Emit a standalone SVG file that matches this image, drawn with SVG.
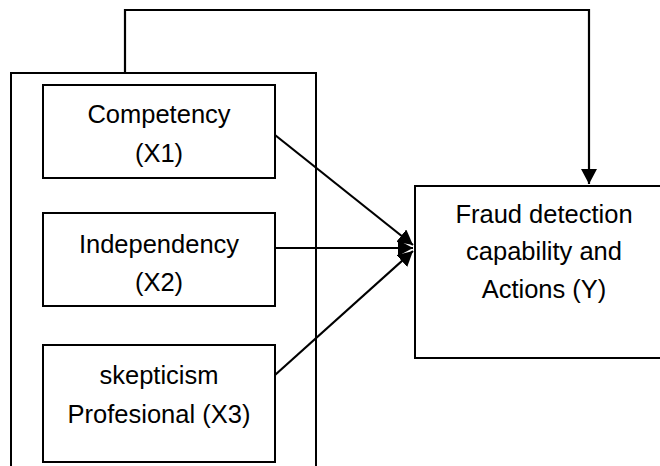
<svg xmlns="http://www.w3.org/2000/svg" width="660" height="466" viewBox="0 0 660 466">
<style>
.box{fill:#fff;stroke:#000;stroke-width:2}
.frame{fill:none;stroke:#000;stroke-width:2}
.ln{fill:none;stroke:#000;stroke-width:2.2}
.t{font-family:"Liberation Sans",Arial,sans-serif;font-size:25.5px;fill:#000;text-anchor:middle}
</style>
<defs>
<marker id="ah" markerUnits="userSpaceOnUse" markerWidth="16" markerHeight="16" refX="15" refY="8" orient="auto">
<path d="M0,0 L15,8 L0,16 z" fill="#000"/>
</marker>
</defs>
<rect width="660" height="466" fill="#fff"/>
<g id="frame">
<path class="frame" d="M11,470 L11,73 L316,73 L316,470"/>
</g>
<g id="x1">
<rect class="box" x="43" y="85" width="232" height="93"/>
<text class="t" x="159" y="123">Competency</text>
<text class="t" x="159" y="162">(X1)</text>
</g>
<g id="x2">
<rect class="box" x="43" y="213" width="232" height="93"/>
<text class="t" x="159" y="253">Independency</text>
<text class="t" x="159" y="291">(X2)</text>
</g>
<g id="x3">
<rect class="box" x="43" y="345" width="232" height="117"/>
<text class="t" x="159" y="384">skepticism</text>
<text class="t" x="159" y="423">Profesional (X3)</text>
</g>
<g id="y">
<rect class="box" x="415" y="186" width="260" height="172"/>
<text class="t" x="544" y="223">Fraud detection</text>
<text class="t" x="544" y="260">capability and</text>
<text class="t" x="544" y="298">Actions (Y)</text>
</g>
<g id="connectors">
<path class="ln" d="M125,73 L125,10 L589,10 L589,184" marker-end="url(#ah)"/>
<path class="ln" d="M275,135 L413,245" marker-end="url(#ah)"/>
<path class="ln" d="M275,248 L413,248" marker-end="url(#ah)"/>
<path class="ln" d="M275,375 L413,251" marker-end="url(#ah)"/>
</g>
</svg>
